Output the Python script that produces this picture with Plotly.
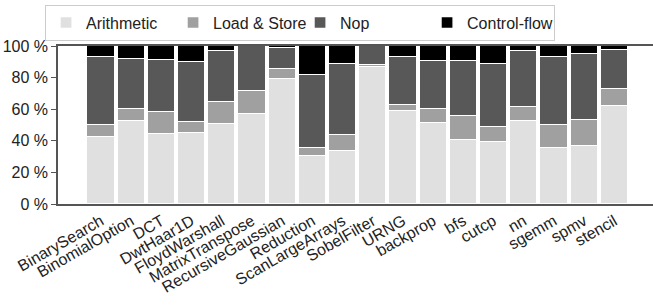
import plotly.graph_objects as go

categories = ["BinarySearch", "BinomialOption", "DCT", "DwtHaar1D", "FloydWarshall",
              "MatrixTranspose", "RecursiveGaussian", "Reduction", "ScanLargeArrays",
              "SobelFilter", "URNG", "backprop", "bfs", "cutcp", "nn", "sgemm", "spmv", "stencil"]

# cumulative tops (percent)
arith_top = [42.2, 52.3, 44.5, 45.1, 50.4, 57.0, 79.3, 30.4, 33.5, 86.7, 58.9, 51.5, 40.5, 39.0, 52.7, 35.7, 36.7, 62.2]
load_top  = [50.0, 60.3, 58.2, 52.1, 64.6, 71.5, 85.7, 35.2, 43.7, 88.2, 62.7, 60.3, 55.7, 48.5, 61.6, 50.0, 53.2, 73.0]
nop_top   = [92.8, 92.0, 91.1, 89.7, 96.8, 100.0, 98.5, 81.9, 88.8, 100.0, 93.2, 90.5, 90.3, 88.4, 97.0, 93.0, 94.9, 97.5]

arithmetic = arith_top
load_store = [round(l - a, 2) for l, a in zip(load_top, arith_top)]
nop = [round(n - l, 2) for n, l in zip(nop_top, load_top)]
control = [round(100 - n, 2) for n in nop_top]

series_names = ["Arithmetic", "Load & Store", "Nop", "Control-flow"]
series_values = [arithmetic, load_store, nop, control]
colors = ["#e0e0e0", "#a0a0a0", "#585858", "#000000"]

y_ticks = [0, 20, 40, 60, 80, 100]
y_ticktext = [f"{v} %" for v in y_ticks]

fig = go.Figure()
for name, vals, col in zip(series_names, series_values, colors):
    fig.add_trace(go.Bar(
        x=categories, y=vals, name=name,
        marker=dict(color=col, line=dict(color="white", width=1.3)),
        width=0.9,
    ))

font = "Liberation Sans, Arial, sans-serif"
fig.update_layout(
    barmode="stack",
    width=653, height=306,
    margin=dict(l=58, r=0, t=46, b=102, autoexpand=False),
    paper_bgcolor="white", plot_bgcolor="white",
    font=dict(family=font, size=16, color="#222"),
    showlegend=True,
    legend=dict(
        orientation="h", xref="container", yref="container",
        x=0.069, xanchor="left", y=0.985, yanchor="top",
        bordercolor="#cccccc", borderwidth=1, font=dict(size=16, color="#222"),
        traceorder="normal", itemclick=False,
        entrywidth=82, entrywidthmode="pixels",
    ),
    bargap=0,
)
fig.update_xaxes(
    range=[-1.424, 18.28], tickangle=-30, showline=True, linecolor="#555",
    linewidth=1.5, mirror=True, ticks="", showgrid=False, automargin=False,
    tickfont=dict(size=16, color="#222"),
)
fig.update_yaxes(
    range=[0, 100], tickmode="array", tickvals=y_ticks, ticktext=y_ticktext,
    showline=True, linecolor="#555", linewidth=1.5, ticks="outside", ticklen=5,
    tickcolor="#555", showgrid=False, automargin=False, zeroline=False,
    tickfont=dict(size=16, color="#222"),
)

fig.write_html("out.html", config={"displayModeBar": False},
               post_script="document.body.style.margin='0';")
